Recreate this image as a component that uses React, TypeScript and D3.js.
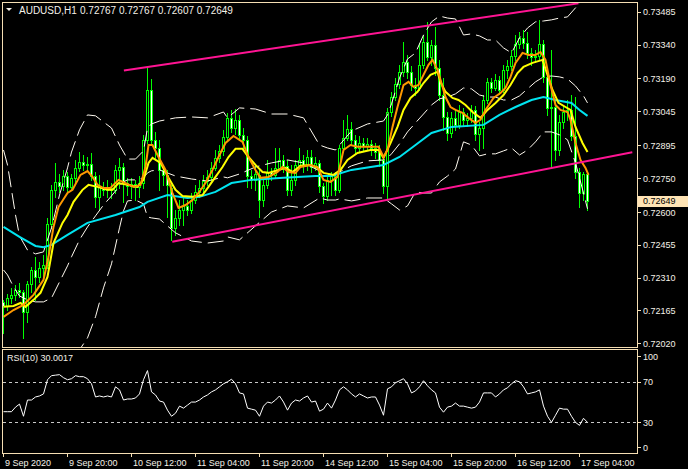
import * as d3 from "d3";

// ---- data (prices in points, 1e-5) ----
const open = [72203,72185,72220,72234,72256,72247,72159,72282,72344,72313,72353,72366,72547,72698,72733,72715,72759,72711,72751,72795,72821,72808,72812,72759,72667,72711,72698,72706,72698,72786,72799,72728,72715,72724,72711,72728,72919,73139,72919,72883,72786,72764,72706,72530,72574,72609,72627,72609,72653,72689,72706,72737,72755,72795,72839,72870,72932,73016,72971,73007,72941,72919,72759,72742,72764,72653,72720,72777,72764,72795,72830,72804,72698,72742,72808,72830,72808,72843,72799,72817,72715,72671,72742,72759,72698,72883,72927,72967,72919,72883,72905,72892,72901,72883,72865,72830,72715,73042,73108,73166,73219,73263,73219,73161,73148,73250,73351,73285,73338,73237,73117,73020,72949,73016,72985,73042,73007,73016,73051,72945,72971,73095,73175,73148,73184,73139,73228,73245,73290,73343,73369,73347,73303,73285,73290,73343,73197,73060,73064,72874,72998,73042,73051,72936,72777,72684,72767];
const high = [72212,72238,72265,72278,72287,72256,72295,72357,72402,72379,72410,72574,72720,72817,72768,72786,72777,72768,72830,72865,72852,72843,72861,72777,72764,72733,72742,72728,72808,72839,72817,72751,72751,72742,72759,72941,73237,73188,72954,72919,72808,72786,72720,72609,72653,72662,72653,72684,72720,72742,72764,72786,72821,72874,72896,72963,73038,73051,73055,73029,72971,72936,72786,72808,72786,72742,72830,72795,72883,72883,72852,72830,72808,72830,72883,72852,72874,72874,72843,72830,72728,72764,72777,72777,72896,73007,73029,72998,72941,72936,72927,72927,72919,72905,72896,72852,73060,73131,73192,73250,73351,73294,73245,73192,73347,73382,73440,73360,73418,73272,73192,73042,73042,73051,73073,73060,73038,73073,73069,72998,73117,73192,73192,73210,73201,73250,73272,73316,73382,73396,73404,73396,73325,73316,73449,73360,73228,73316,73095,73029,73073,73095,73117,73108,72795,72775,72767];
const low = [72066,72167,72198,72212,72225,72044,72114,72247,72212,72291,72313,72353,72530,72667,72689,72698,72684,72698,72733,72781,72786,72786,72742,72622,72609,72675,72667,72662,72684,72706,72645,72675,72662,72653,72667,72706,72905,72896,72830,72698,72720,72578,72477,72499,72543,72543,72587,72596,72640,72667,72689,72720,72742,72786,72821,72852,72919,72954,72945,72919,72883,72711,72706,72698,72578,72627,72706,72742,72751,72786,72777,72675,72675,72720,72795,72777,72786,72777,72786,72689,72640,72653,72675,72675,72689,72874,72919,72896,72861,72865,72874,72874,72852,72839,72804,72684,72662,73025,73095,73148,73201,73192,73139,73117,73139,73237,73272,73250,73206,73095,72963,72919,72932,72963,72971,72985,72980,72998,72919,72874,72883,73082,73131,73139,73122,73131,73192,73228,73272,73325,73325,73281,73250,73263,73272,73175,73029,72799,72830,72852,72971,73007,72919,72751,72622,72653,72607];
const close = [72185,72220,72234,72256,72247,72159,72282,72344,72313,72353,72366,72547,72698,72733,72715,72759,72711,72751,72795,72821,72808,72812,72759,72667,72711,72698,72706,72698,72786,72799,72728,72715,72724,72711,72728,72919,73139,72919,72883,72786,72764,72720,72530,72574,72609,72627,72609,72653,72689,72706,72737,72755,72795,72839,72870,72932,73016,72971,73007,72941,72919,72759,72742,72768,72653,72720,72777,72764,72795,72830,72804,72698,72742,72808,72830,72808,72843,72799,72817,72715,72671,72742,72759,72698,72883,72927,72967,72919,72883,72905,72892,72901,72883,72865,72830,72715,73042,73108,73166,73219,73263,73219,73161,73148,73250,73351,73285,73338,73237,73117,73020,72949,73016,72985,73042,73007,73016,73051,72945,72971,73095,73175,73148,73184,73139,73228,73245,73290,73343,73369,73347,73303,73285,73290,73343,73197,73060,73064,72874,72998,73042,73051,72936,72777,72684,72767,72649];

// moving averages, read at [bar, price]
const maSlowBars = [0,4,8,10,12,16,21,28,34,36,41,46,49,53,57,62,70,78,82,87,95,99,103,107,112,120,124,128,132,135,138,142,144,146];
const maSlow = [72534,72490,72450,72444,72455,72499,72552,72587,72622,72645,72675,72662,72667,72689,72728,72742,72751,72759,72759,72786,72808,72843,72896,72949,72976,72985,73029,73064,73095,73108,73095,73082,73051,73025];
const maFastBars = [0,2.5,5,7.5,10,11.25,12.5,13.75,16,17.25,19.25,21,22.25,23.5,25,26.75,28.75,30.5,32.5,34.25,35.5,36.25,37.25,38.75,40.5,42.25,43.75,45.5,47.25,48.75,50.5,52.25,53.75,55.5,57.5,59.75,61.25,63,64.25,66.25,68.5,69.75,71.25,73,74.25,76.75,78.5,80,81.75,83.5,85,86.75,88.5,91,93.75,95,96,97.25,98.5,100,101.25,102.5,103.75,105,106.25,107.25,108.5,109.25,110.5,111.75,113,114.75,116.25,118,119.25,120.5,122.5,124.25,125.5,126.75,128,129.75,131.25,133,134.25,135.5,136.75,138,139.25,141,141.75,143,144.25,145.5,146.25];
const maFast = [72137,72167,72190,72234,72300,72402,72534,72622,72684,72698,72764,72781,72755,72720,72706,72706,72742,72728,72711,72720,72799,72896,72896,72843,72786,72684,72618,72631,72653,72684,72728,72786,72843,72905,72936,72910,72843,72786,72751,72755,72777,72799,72777,72773,72799,72808,72799,72742,72733,72755,72874,72896,72888,72888,72888,72843,72874,72976,73064,73161,73175,73153,73161,73206,73250,73272,73228,73184,73108,73064,73051,73038,73016,72994,73007,73051,73104,73126,73148,73197,73259,73303,73294,73294,73307,73272,73161,73073,73051,73042,73007,72905,72830,72795,72764];
const maMidBars = [0,2.5,4.25,5.5,7.5,9.25,11,12.5,14.75,16,17.5,19.75,21.25,23.5,26,27.25,28.75,31,33.5,35,36.25,37.25,39.25,41.25,43,44.75,47.25,49.75,51.25,53,54.75,56.25,58,59.75,61.25,63,64.75,66.25,68.75,70.5,72.25,74.25,76.75,78.5,80,82.5,84.25,86,88.5,91.75,93.75,95,96.75,98.5,100,101.75,103.5,105,106.75,108.5,109.25,110.5,112.25,113.75,115.5,117.25,119.25,121,123,125,126.75,128.5,130,132.25,134.75,136,137.25,138.75,140.5,141.75,143,144.75,146];
const maMid = [72181,72185,72198,72181,72212,72243,72313,72463,72552,72587,72645,72698,72720,72711,72698,72698,72728,72720,72711,72742,72817,72839,72817,72751,72698,72671,72667,72675,72711,72755,72799,72843,72879,72879,72843,72808,72777,72773,72786,72795,72777,72804,72808,72795,72773,72764,72786,72830,72861,72874,72874,72839,72905,72976,73051,73104,73131,73170,73206,73219,73175,73131,73104,73095,73073,73042,73016,73051,73082,73117,73161,73214,73241,73259,73272,73206,73139,73082,73064,73051,72976,72905,72865];

// Bollinger bands (white dashed), read at these bars
const bandBars = [0,1,2,3,4,6,8,10,12,14,16,17,19,21,23,25,27,29,30,31,33,35,36,37,39,43,47,51,55,56,59,63,67,71,75,79,81,83,84,87,91,95,96,97,99,101,103,105,107,109,111,113,115,117,119,121,123,125,127,129,131,133,135,137,139,141,143,145,146];
const bandUpper = [72874,72808,72698,72587,72494,72432,72415,72424,72530,72675,72795,72865,72963,73029,73025,72998,72971,72896,72865,72834,72834,72870,72971,72989,73002,73016,73020,73016,73042,73016,73060,73055,73033,73033,73016,72896,72883,72874,72896,72958,72989,73002,73029,73078,73192,73276,73303,73382,73440,73466,73457,73453,73382,73387,73378,73360,73360,73325,73303,73369,73413,73440,73444,73449,73457,73462,73502,73541,73555];
const bandMiddle = [72344,72322,72287,72256,72229,72212,72203,72203,72220,72291,72362,72402,72477,72534,72583,72631,72671,72715,72733,72742,72742,72751,72773,72782,72786,72759,72746,72737,72755,72751,72768,72799,72817,72830,72817,72782,72768,72764,72777,72804,72826,72830,72839,72857,72901,72954,72994,73033,73073,73100,73108,73122,73148,73144,73117,73108,73108,73095,73095,73113,73144,73175,73197,73201,73197,73188,73157,73113,73082];
const bandLower = [71814,71836,71880,71924,71964,71991,71991,71982,71911,71907,71929,71938,71991,72044,72137,72265,72371,72530,72605,72649,72653,72636,72578,72574,72569,72508,72472,72463,72472,72490,72477,72539,72600,72627,72618,72662,72653,72653,72658,72649,72662,72662,72649,72636,72609,72627,72689,72684,72684,72733,72759,72790,72910,72896,72848,72857,72857,72870,72883,72852,72874,72910,72954,72954,72941,72919,72817,72684,72614];

// RSI(10), one value per bar
const rsi = [40.5,40.5,40.5,45,48,36,52,52,55,56,58,72,76,76.5,77,74,72,73,76,75,75,73,68,55,56,55,56,55,65,62,52,53,53,54,58,72,81,60,57,51,50,42,36,39,46,44,47,50,50,52,55,57,60,62,65,68,70,72.5,68,59,58,44,43,42,36,46,50,49,52,56,50,42,49,52,51,54,56,50,51,41,43,49,44,52,62,65,62,58,55,58,56,54,55,55,47,37,63,65,69,71,73,68,59,61,65,71,66,62,59,45,40,45,46,49,46,46,45,44,45,50,59,59,59,55,58,62,64,68,71,70,65,58,59,60,62,46,36,30,37,44,43,43,36,30,27,34,30.0017];

// channel lines drawn on the chart: [bar, price] ends
const channelUpperBars = [30.1, 143.75];
const channelUpper = [73225, 73522];
const channelLowerBars = [42.2, 157.2];
const channelLower = [72469, 72864];

const priceTicks = [73485, 73340, 73190, 73045, 72895, 72750, 72600, 72455, 72310, 72165, 72020];
const rsiTicks = [100, 70, 30, 0];
const timeLabels = ["9 Sep 2020", "9 Sep 20:00", "10 Sep 12:00", "11 Sep 04:00", "11 Sep 20:00", "14 Sep 12:00", "15 Sep 04:00", "15 Sep 20:00", "16 Sep 12:00", "17 Sep 04:00"];
const timeLabelBars = [0, 16, 32, 48, 64, 80, 96, 112, 128, 144];

const FONT = "'Liberation Sans', Arial, sans-serif";
const FRAME = "#f5deb3";
const TEXT = "#f4f0e8";

export default function App() {
  const W = 688, H = 469;
  const L = 3, R = 637, T = 3, B = 347;
  const RT = 350, RB = 453;

  const x = d3.scaleLinear().domain([0, 144]).range([3, 579]);
  const y = d3.scaleLinear().domain([72020, 73485]).range([343.3, 11.7]);
  const yr = d3.scaleLinear().domain([0, 100]).range([452.8, 351.3]);

  const mkLine = (bars: number[], vals: number[]) =>
    d3.line<number>().x((_, i) => x(bars[i]) + 0.5).y((v) => y(v))(vals) ?? "";

  const rsiPath = d3.line<number>().x((_, i) => x(i) + 0.5).y((v) => yr(v))(rsi) ?? "";

  const last = close[close.length - 1];

  return (
    <svg width={W} height={H} style={{ position: "absolute", left: 0, top: 0, background: "#000" }} fontFamily={FONT}>
      <defs>
        <clipPath id="main"><rect x={L} y={T} width={R - L} height={B - T} /></clipPath>
        <clipPath id="rsi"><rect x={L} y={RT} width={R - L} height={RB - RT} /></clipPath>
      </defs>
      <rect width={W} height={H} fill="#000" />

      <g clipPath="url(#main)">
        {/* candles */}
        <g shapeRendering="crispEdges">
          {open.map((o, i) => {
            const c = close[i];
            const cx = Math.round(x(i));
            const top = Math.round(y(Math.max(o, c)));
            const bot = Math.round(y(Math.min(o, c)));
            return (
              <g key={i}>
                <line x1={cx + 0.5} x2={cx + 0.5} y1={Math.round(y(high[i]))} y2={Math.round(y(low[i])) + 1} stroke="#00ff00" />
                <rect x={cx - 0.5} y={top + 0.5} width={2} height={Math.max(bot - top, 0)}
                  fill={c < o ? "#ffffff" : "#000000"} stroke="#00ff00" />
              </g>
            );
          })}
        </g>
        {/* bollinger bands */}
        {[bandUpper, bandMiddle, bandLower].map((b, k) => (
          <path key={k} d={mkLine(bandBars, b)} fill="none" stroke="#fffaf0" strokeWidth={1} strokeDasharray="16,6" />
        ))}
        <path d={mkLine(maSlowBars, maSlow)} fill="none" stroke="#00e4f0" strokeWidth={2} />
        <path d={mkLine(maMidBars, maMid)} fill="none" stroke="#ffff00" strokeWidth={2} />
        <path d={mkLine(maFastBars, maFast)} fill="none" stroke="#ff9900" strokeWidth={2} />
        <path d={mkLine(channelUpperBars, channelUpper)} fill="none" stroke="#ff1493" strokeWidth={2} />
        <path d={mkLine(channelLowerBars, channelLower)} fill="none" stroke="#ff1493" strokeWidth={2} />
      </g>

      {/* frames */}
      <g shapeRendering="crispEdges" fill="none" stroke={FRAME}>
        <rect x={L - 0.5} y={T - 0.5} width={R - L + 1} height={B - T + 1} />
        <rect x={L - 0.5} y={RT - 0.5} width={R - L + 1} height={RB - RT + 1} />
      </g>

      {/* price axis */}
      <g fontSize={9} fill={TEXT}>
        {priceTicks.map((p) => (
          <g key={p}>
            <line x1={R} x2={R + 4} y1={Math.round(y(p)) + 0.5} y2={Math.round(y(p)) + 0.5} stroke={FRAME} shapeRendering="crispEdges" />
            <text x={643} y={y(p) + 3.5}>{(p / 1e5).toFixed(5)}</text>
          </g>
        ))}
        <rect x={638} y={196} width={50} height={11} fill="#ffe4b5" />
        <text x={643} y={y(last) + 3.5} fill="#000">{(last / 1e5).toFixed(5)}</text>
      </g>

      {/* title */}
      <g fontSize={10} fill={TEXT}>
        <path d="M6,8 L12,8 L9,11 Z" fill={TEXT} />
        <text x={19} y={14}>AUDUSD,H1</text>
        <text x={80} y={14}>
          {[open, high, low, close].map((a) => (a[a.length - 1] / 1e5).toFixed(5)).join(" ")}
        </text>
      </g>

      {/* RSI */}
      <g clipPath="url(#rsi)">
        {[70, 30].map((v) => (
          <line key={v} x1={L} x2={R} y1={Math.round(yr(v)) + 0.5} y2={Math.round(yr(v)) + 0.5}
            stroke="#c8c8c8" strokeDasharray="3,3" shapeRendering="crispEdges" />
        ))}
        <path d={rsiPath} fill="none" stroke="#ffffff" strokeWidth={1} />
      </g>
      <text x={7} y={361} fontSize={9} fill={TEXT}>RSI(10) {rsi[rsi.length - 1].toFixed(4)}</text>
      <g fontSize={9} fill={TEXT}>
        {rsiTicks.map((v) => {
          const ty = Math.min(Math.max(yr(v), 356), 447);
          return (
            <g key={v}>
              <line x1={R} x2={R + 4} y1={Math.round(ty) + 0.5} y2={Math.round(ty) + 0.5} stroke={FRAME} shapeRendering="crispEdges" />
              <text x={643} y={ty + 3.5}>{v}</text>
            </g>
          );
        })}
      </g>

      {/* time axis */}
      <g fontSize={9} fill={TEXT}>
        {timeLabels.map((t, i) => {
          const tx = Math.round(x(timeLabelBars[i]));
          return (
            <g key={t}>
              <line x1={tx + 0.5} x2={tx + 0.5} y1={RB} y2={RB + 4} stroke={FRAME} shapeRendering="crispEdges" />
              <text x={tx + 2} y={466}>{t}</text>
            </g>
          );
        })}
      </g>
    </svg>
  );
}
